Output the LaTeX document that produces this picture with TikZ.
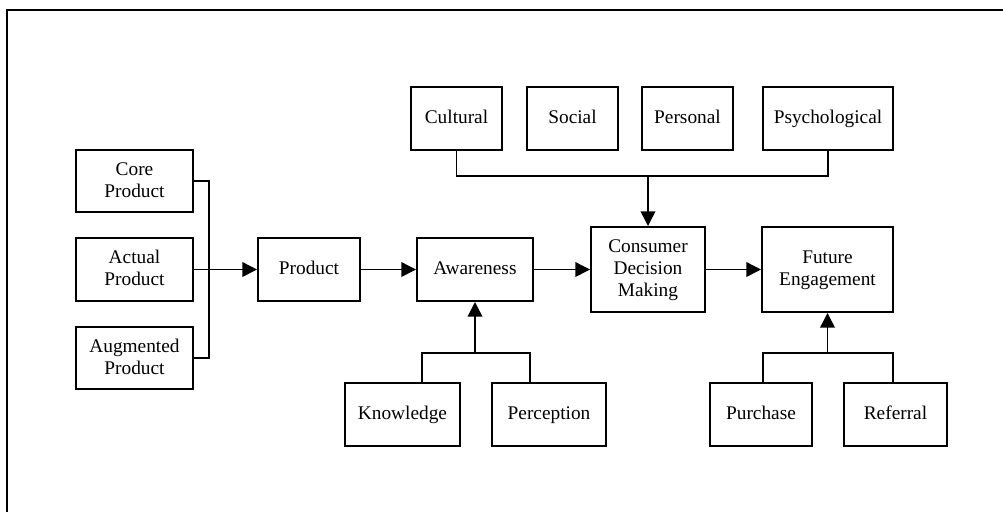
\documentclass[tikz,border=0pt]{standalone}
\usepackage{fontspec}
\setmainfont{Liberation Serif}
\usetikzlibrary{arrows.meta}
% invisible line prop so every text line has the same height and depth
\newcommand\lp{\rule[-4.4pt]{0pt}{16.5pt}}
\begin{document}
\begin{tikzpicture}[x=0.75pt,y=-0.75pt,
  box/.style={draw=black,line width=1.5pt,inner sep=0pt,align=center,
    font=\fontsize{14.5}{16.5}\selectfont},
  wh/.style 2 args={minimum width={#1*0.75pt},minimum height={#2*0.75pt}},
  link/.style={draw=black,line width=1.1pt},
  arr/.style={link,-{Triangle[length=11pt,width=11pt]}},
  frame/.style={draw=black,line width=1.5pt}]
\useasboundingbox (0,0) rectangle (1003,512);
\draw[frame] (7,512) -- (7,10) -- (1003,10);

% product levels
\node[box,wh={117}{62}] (core)   at (134.5,181)   {\lp Core\\\lp Product};
\node[box,wh={117}{63}] (actual) at (134.5,269.5) {\lp Actual\\\lp Product};
\node[box,wh={117}{62}] (aug)    at (134.5,358)   {\lp Augmented\\\lp Product};

% main chain
\node[box,wh={102}{63}] (product) at (309,269.5)   {\lp Product};
\node[box,wh={116}{63}] (aware)   at (475,269.5)   {\lp Awareness};
\node[box,wh={114}{85}] (cdm)     at (648,269.5)   {\lp Consumer\\\lp Decision\\\lp Making};
\node[box,wh={131}{85}] (future)  at (827.5,269.5) {\lp Future\\\lp Engagement};

% influencing factors
\node[box,wh={91}{63}]  (cultural) at (456.5,118.5) {\lp Cultural};
\node[box,wh={91}{63}]  (social)   at (572.5,118.5) {\lp Social};
\node[box,wh={91}{63}]  (personal) at (687.5,118.5) {\lp Personal};
\node[box,wh={130}{63}] (psych)    at (828,118.5)   {\lp Psychological};

% awareness inputs
\node[box,wh={115}{63}] (know) at (402.5,414.5) {\lp Knowledge};
\node[box,wh={114}{63}] (perc) at (549,414.5)   {\lp Perception};

% engagement outcomes
\node[box,wh={102}{63}] (purch) at (761,414.5)   {\lp Purchase};
\node[box,wh={103}{63}] (refer) at (895.5,414.5) {\lp Referral};

% product bracket
\coordinate (pb) at (209,269.5);
\draw[link] (core.east) -| (pb) |- (aug.east);
\draw[arr] (actual.east) -- (product.west);

\draw[arr] (product.east) -- (aware.west);
\draw[arr] (aware.east) -- (cdm.west);
\draw[arr] (cdm.east) -- (future.west);

% factors bracket
\coordinate (tj) at (648,176);
\draw[link] (cultural.south) |- (tj) -| (psych.south);
\draw[arr] (tj) -- (cdm.north);

% awareness bracket
\coordinate (kl) at (422,353);
\coordinate (kr) at (530,353);
\draw[link] (kl |- know.north) -- (kl) -- (kr) -- (kr |- perc.north);
\draw[arr] (aware.south |- kl) -- (aware.south);

% engagement bracket
\coordinate (fl) at (763,353);
\coordinate (fr) at (893,353);
\draw[link] (fl |- purch.north) -- (fl) -- (fr) -- (fr |- refer.north);
\draw[arr] (future.south |- fl) -- (future.south);
\end{tikzpicture}
\end{document}
